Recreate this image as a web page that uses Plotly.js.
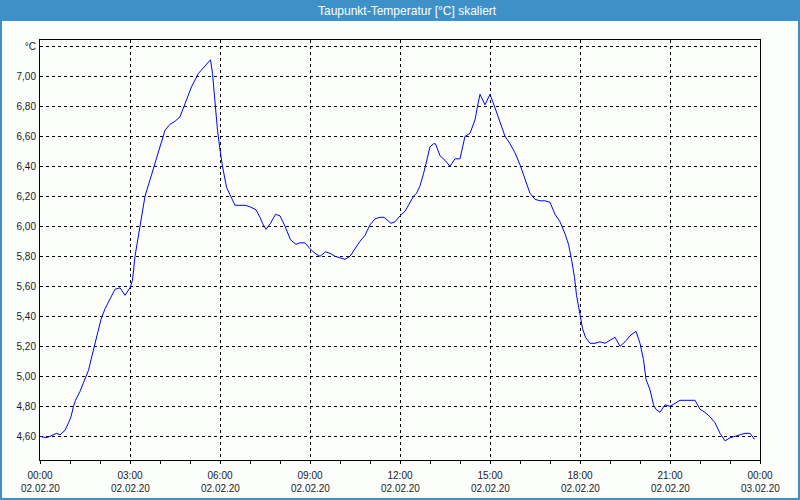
<!DOCTYPE html>
<html><head><meta charset="utf-8">
<script src="https://cdn.plot.ly/plotly-3.0.1.min.js"></script>
<style>html,body{margin:0;padding:0;background:#fcfefc}</style>
</head><body><div id="chart" style="width:800px;height:500px"></div>
<script>
const day = '2020-02-02';
const times = ['00:00','00:12','00:20','00:27','00:33','00:40','00:50','00:57','01:02','01:07','01:11','01:20','01:30','01:37','01:42','01:49','01:55','02:02','02:10','02:20','02:30','02:40','02:50','03:00','03:05','03:10','03:17','03:20','03:25','03:30','03:40','03:50','04:00','04:10','04:20','04:30','04:40','04:47','04:53','05:03','05:17','05:27','05:41','05:45','05:50','05:55','06:00','06:05','06:13','06:21','06:30','06:40','06:50','07:00','07:12','07:20','07:25','07:32','07:41','07:51','08:00','08:10','08:21','08:32','08:40','08:50','09:00','09:10','09:20','09:31','09:40','09:50','10:00','10:10','10:20','10:30','10:40','10:50','11:00','11:10','11:20','11:28','11:42','11:50','12:00','12:10','12:20','12:27','12:33','12:40','12:47','12:53','13:00','13:07','13:11','13:20','13:30','13:40','13:50','14:00','14:10','14:20','14:30','14:35','14:40','14:50','15:00','15:10','15:20','15:30','15:40','15:50','16:00','16:10','16:20','16:30','16:40','16:50','17:00','17:10','17:20','17:30','17:37','17:43','17:49','17:53','18:00','18:05','18:11','18:20','18:30','18:40','18:50','19:00','19:10','19:20','19:30','19:40','19:52','20:00','20:07','20:12','20:20','20:27','20:32','20:40','20:50','21:00','21:10','21:20','21:30','21:40','21:50','22:00','22:10','22:20','22:30','22:40','22:50','23:00','23:10','23:20','23:30','23:40','23:49'];
const values = [4.60,4.59,4.60,4.61,4.62,4.61,4.64,4.69,4.73,4.80,4.84,4.90,4.98,5.04,5.11,5.21,5.30,5.38,5.45,5.52,5.58,5.59,5.54,5.59,5.64,5.80,5.95,6.00,6.11,6.20,6.31,6.42,6.54,6.64,6.68,6.70,6.73,6.79,6.85,6.93,7.02,7.06,7.11,7.02,6.80,6.64,6.51,6.40,6.26,6.20,6.14,6.14,6.14,6.13,6.11,6.06,6.02,5.98,6.02,6.08,6.07,6.00,5.91,5.88,5.89,5.89,5.85,5.82,5.80,5.83,5.82,5.80,5.79,5.78,5.80,5.85,5.90,5.94,6.01,6.05,6.06,6.06,6.02,6.03,6.07,6.10,6.16,6.20,6.22,6.27,6.35,6.44,6.53,6.55,6.55,6.47,6.44,6.40,6.45,6.45,6.60,6.62,6.71,6.80,6.88,6.81,6.88,6.79,6.69,6.60,6.55,6.49,6.41,6.31,6.22,6.18,6.17,6.17,6.16,6.08,6.03,5.95,5.88,5.78,5.66,5.54,5.42,5.32,5.26,5.22,5.22,5.23,5.22,5.24,5.26,5.20,5.23,5.27,5.30,5.22,5.11,4.98,4.91,4.81,4.78,4.76,4.81,4.80,4.82,4.84,4.84,4.84,4.84,4.78,4.76,4.73,4.69,4.62,4.57,4.59,4.60,4.61,4.62,4.62,4.58];
const xTickVals = ['2020-02-02 00:00','2020-02-02 03:00','2020-02-02 06:00','2020-02-02 09:00','2020-02-02 12:00','2020-02-02 15:00','2020-02-02 18:00','2020-02-02 21:00','2020-02-03 00:00'];
const xTickTimes = ['00:00','03:00','06:00','09:00','12:00','15:00','18:00','21:00','00:00'];
const xTickDates = ['02.02.20','02.02.20','02.02.20','02.02.20','02.02.20','02.02.20','02.02.20','02.02.20','03.02.20'];
const yTickVals = [4.6,4.8,5.0,5.2,5.4,5.6,5.8,6.0,6.2,6.4,6.6,6.8,7.0,7.2];
const yTickText = ['4,60','4,80','5,00','5,20','5,40','5,60','5,80','6,00','6,20','6,40','6,60','6,80','7,00','°C'];
const titleText = 'Taupunkt-Temperatur [°C] skaliert';

const x = times.map(t => day + ' ' + t);
const F = 'Liberation Sans, Arial, sans-serif';
const bg = '#fcfefc';
const blue = '#3d91c7';

const annotations = [{
  text: titleText, xref: 'paper', yref: 'paper', x: 0.511, y: 1.069,
  xanchor: 'center', yanchor: 'middle', showarrow: false,
  font: {family: F, size: 12, color: '#ffffff'}
}];
xTickVals.forEach((v, i) => annotations.push({
  text: xTickDates[i], xref: 'x', yref: 'paper', x: v, y: -0.069,
  xanchor: 'center', yanchor: 'middle', showarrow: false,
  font: {family: F, size: 10, color: '#1a1a1a'}
}));

const layout = {
  width: 800, height: 500,
  margin: {l: 40, r: 40, t: 40, b: 40, pad: 0},
  paper_bgcolor: bg, plot_bgcolor: bg,
  showlegend: false,
  font: {family: F, size: 10, color: '#1a1a1a'},
  xaxis: {
    type: 'date', range: [xTickVals[0], xTickVals[xTickVals.length - 1]],
    tickmode: 'array', tickvals: xTickVals, ticktext: xTickTimes,
    ticks: 'outside', ticklen: 3, tickcolor: '#000', tickwidth: 1,
    minor: {dtick: 3600000, tick0: xTickVals[0], ticks: 'outside', ticklen: 3, tickcolor: '#000', showgrid: false},
    showline: true, mirror: true, linecolor: '#000', linewidth: 1,
    showgrid: true, gridcolor: '#000', gridwidth: 1, griddash: '3px,3px',
    zeroline: false, tickfont: {family: F, size: 10, color: '#1a1a1a'},
    ticklabelstandoff: 3
  },
  yaxis: {
    range: [4.442, 7.242],
    tickmode: 'array', tickvals: yTickVals, ticktext: yTickText,
    ticks: '', showline: true, mirror: true, linecolor: '#000', linewidth: 1,
    showgrid: true, gridcolor: '#000', gridwidth: 1, griddash: '3px,3px',
    zeroline: false, tickfont: {family: F, size: 10, color: '#1a1a1a'},
    ticklabelstandoff: 1
  },
  shapes: [
    {type: 'rect', xref: 'paper', yref: 'paper', x0: -0.0556, x1: 1.0556, y0: 1.0452, y1: 1.0952,
     fillcolor: blue, line: {width: 0}, layer: 'below'},
    {type: 'rect', xref: 'paper', yref: 'paper', x0: (1 - 40) / 720, x1: (799 - 40) / 720, y0: (460 - 499) / 420, y1: (460 - 1) / 420,
     fillcolor: 'rgba(0,0,0,0)', line: {color: blue, width: 2}, layer: 'below'}
  ],
  annotations: annotations
};

Plotly.newPlot('chart', [{
  type: 'scatter', mode: 'lines', x: x, y: values,
  line: {color: '#0000ff', width: 1}, hoverinfo: 'skip'
}], layout, {staticPlot: true, displayModeBar: false});
</script></body></html>
